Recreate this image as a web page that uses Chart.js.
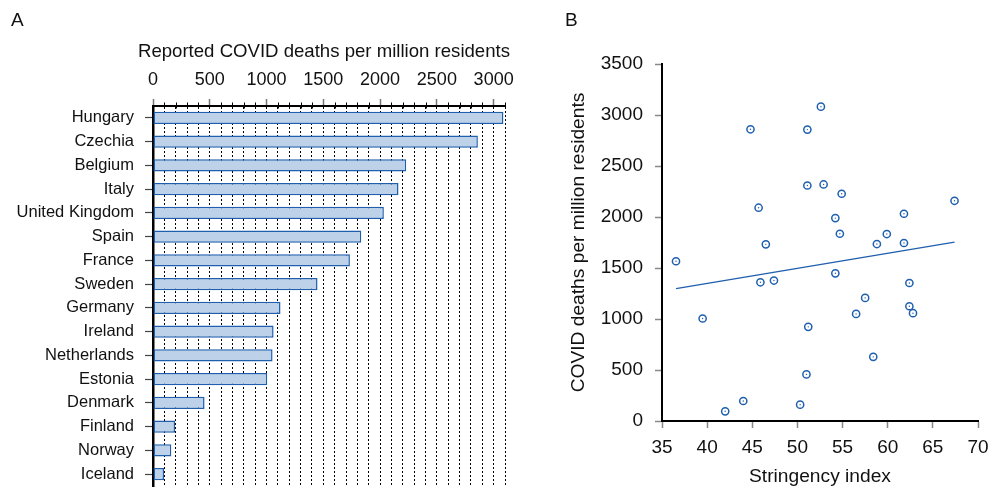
<!DOCTYPE html>
<html>
<head>
<meta charset="utf-8">
<script src="https://cdn.jsdelivr.net/npm/chart.js@4"></script>
<style>
  body { margin: 0; background: #fff; }
  #wrap { position: relative; width: 992px; height: 488px; font-family: "Liberation Sans", Arial, sans-serif; color: #111; }
  .panel { position: absolute; font-size: 19px; }
  #titleA { position: absolute; left: 0; width: 648px; top: 40px; text-align: center; font-size: 18.6px; line-height: 22px; white-space: nowrap; }
  canvas { position: absolute; top: 0; }
</style>
</head>
<body>
<div id="wrap">
  <canvas id="bars" width="540" height="488" style="left:0"></canvas>
  <canvas id="scatter" width="452" height="488" style="left:540px"></canvas>
  <div class="panel" style="left:11px;top:9px">A</div>
  <div class="panel" style="left:565px;top:9px">B</div>
  <div id="titleA">Reported COVID deaths per million residents</div>
</div>
<script>
// panel A: deaths per million by country
const countries = ["Hungary", "Czechia", "Belgium", "Italy", "United Kingdom", "Spain", "France", "Sweden",
  "Germany", "Ireland", "Netherlands", "Estonia", "Denmark", "Finland", "Norway", "Iceland"];
const deaths = [3086, 2861, 2230, 2162, 2033, 1834, 1734, 1449, 1123, 1062, 1053, 1006, 454, 194, 161, 97];

// panel B: stringency index vs deaths per million
const stringency = [52.6, 44.8, 51.1, 51.1, 52.9, 54.9, 45.7, 67.4, 61.8, 54.2, 54.7, 59.9, 46.5, 58.8, 61.8, 36.55,
  45.9, 47.4, 54.2, 62.4, 57.5, 56.5, 62.4, 62.8, 39.5, 51.2, 58.4, 51.0, 44.0, 50.3, 42.0];
const deathsB = [3082, 2860, 2857, 2309, 2319, 2228, 2091, 2159, 2032, 1989, 1836, 1833, 1732, 1735, 1745, 1566,
  1360, 1377, 1448, 1353, 1207, 1050, 1125, 1057, 1005, 923, 629, 457, 196, 160, 95];
// fitted line, read at its two ends
const fitX = [36.55, 67.4];
const fitY = [1298, 1754];

const FONT = "'Liberation Sans', Arial, sans-serif";
const TXT = "#111";
const BLUE = "#1f5fae";

// the layout should not reserve room for half-labels at the axis ends
const noEndPad = (s) => {
  s.paddingTop = 0;
  s.paddingBottom = 0;
  s.paddingLeft = 0;
  s.paddingRight = 0;
};

// short black minor ticks crossing the top axis
const minorTicks = {
  id: "minorTicks",
  afterDraw(chart) {
    const sx = chart.scales.x;
    const ctx = chart.ctx;
    const y = chart.chartArea.top;
    ctx.save();
    ctx.strokeStyle = "#000";
    ctx.lineWidth = 1;
    sx.ticks.forEach((t) => {
      if (t.value % 500 === 0) return;
      const px = Math.round(sx.getPixelForValue(t.value)) + 0.5;
      ctx.beginPath();
      ctx.moveTo(px, y - 3.5);
      ctx.lineTo(px, y + 2.5);
      ctx.stroke();
    });
    ctx.restore();
  },
};

new Chart(document.getElementById("bars"), {
  type: "bar",
  data: {
    labels: countries,
    datasets: [{
      data: deaths,
      backgroundColor: "#bdd2e8",
      borderColor: BLUE,
      borderWidth: 1.5,
      borderSkipped: false,
      barPercentage: 0.52,
      categoryPercentage: 1,
    }],
  },
  options: {
    indexAxis: "y",
    responsive: false,
    animation: false,
    layout: { padding: { left: 0, top: 29, right: 35, bottom: 2 } },
    plugins: { legend: { display: false }, tooltip: { enabled: false } },
    scales: {
      x: {
        position: "top",
        min: 0,
        max: 3100,
        afterFit: (s) => { s.height = 77; noEndPad(s); },
        ticks: {
          stepSize: 100,
          maxTicksLimit: 100,
          autoSkip: false,
          maxRotation: 0,
          padding: 8,
          color: TXT,
          font: { family: FONT, size: 18 },
          callback: (v) => (v % 500 === 0 ? String(v) : ""),
        },
        grid: {
          color: "#000",
          lineWidth: 1,
          drawTicks: true,
          tickLength: 7,
          tickWidth: 1.5,
          tickColor: (c) => (c.tick && c.tick.value % 500 === 0 ? "#777" : "rgba(0,0,0,0)"),
        },
        border: { display: true, color: "#000", width: 2, dash: [2, 2] },
      },
      y: {
        afterFit: (s) => { s.width = 153; noEndPad(s); },
        ticks: {
          autoSkip: false,
          padding: 11,
          color: TXT,
          font: { family: FONT, size: 16.5 },
        },
        grid: {
          offset: false,
          drawOnChartArea: false,
          drawTicks: true,
          tickLength: 8,
          tickColor: "#444",
          tickWidth: 1.2,
        },
        border: { display: true, color: "#000", width: 2.5 },
      },
    },
  },
  plugins: [minorTicks],
});

const pts = stringency.map((x, i) => ({ x: x, y: deathsB[i] }));
const fit = fitX.map((x, i) => ({ x: x, y: fitY[i] }));

new Chart(document.getElementById("scatter"), {
  type: "scatter",
  data: {
    datasets: [
      {
        type: "line",
        data: fit,
        borderColor: BLUE,
        borderWidth: 1.4,
        pointRadius: 0,
        fill: false,
      },
      {
        data: pts,
        pointStyle: "circle",
        pointRadius: 3.6,
        pointBorderWidth: 1.5,
        pointBorderColor: BLUE,
        pointBackgroundColor: "rgba(0,0,0,0)",
      },
      {
        data: pts,
        pointRadius: 0.7,
        pointBorderWidth: 0,
        pointBackgroundColor: BLUE,
      },
    ],
  },
  options: {
    responsive: false,
    animation: false,
    layout: { padding: { left: 27, top: 64, right: 14, bottom: 0 } },
    plugins: { legend: { display: false }, tooltip: { enabled: false } },
    scales: {
      x: {
        type: "linear",
        min: 35,
        max: 70,
        afterFit: (s) => { s.height = 67; noEndPad(s); },
        title: {
          display: true,
          text: "Stringency index",
          color: TXT,
          font: { family: FONT, size: 19.2 },
          padding: { top: 2, bottom: 0 },
        },
        ticks: { stepSize: 5, padding: 8, color: TXT, font: { family: FONT, size: 19 }, maxRotation: 0 },
        grid: { drawOnChartArea: false, drawTicks: true, tickLength: 7, tickColor: "#888", tickWidth: 1.5 },
        border: { display: true, color: "#000", width: 2 },
      },
      y: {
        min: 0,
        max: 3500,
        afterFit: (s) => { s.width = 95; noEndPad(s); },
        title: {
          display: true,
          text: "COVID deaths per million residents",
          color: TXT,
          font: { family: FONT, size: 19.2 },
          padding: { top: 0, bottom: 0 },
        },
        ticks: {
          stepSize: 500,
          padding: 12,
          color: TXT,
          font: { family: FONT, size: 19 },
          callback: (v) => String(v),
        },
        grid: { drawOnChartArea: false, drawTicks: true, tickLength: 7, tickColor: "#888", tickWidth: 1.5 },
        border: { display: true, color: "#000", width: 2 },
      },
    },
  },
});
</script>
</body>
</html>
